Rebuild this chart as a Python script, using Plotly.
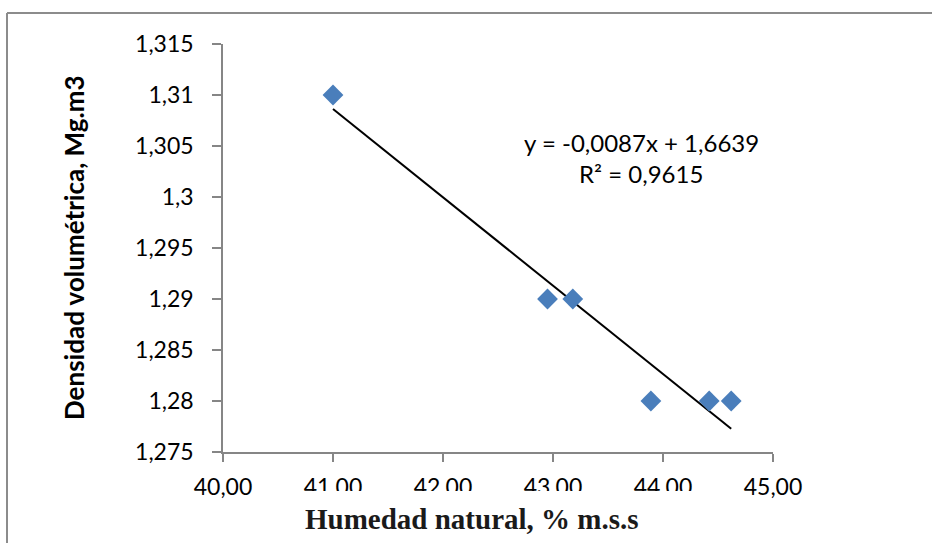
import numpy as np
import plotly.graph_objects as go

# ---- data ----
humedad = [41.00, 42.95, 43.18, 43.89, 44.42, 44.62]
densidad = [1.310, 1.290, 1.290, 1.280, 1.280, 1.280]

x_tickvals = [40, 41, 42, 43, 44, 45]
x_ticktext = ["40,00", "41,00", "42,00", "43,00", "44,00", "45,00"]
y_tickvals = [1.275, 1.28, 1.285, 1.29, 1.295, 1.30, 1.305, 1.31, 1.315]
y_ticktext = ["1,275", "1,28", "1,285", "1,29", "1,295", "1,3", "1,305", "1,31", "1,315"]

eq_text = "y = -0,0087x + 1,6639"
r2_text = "R² = 0,9615"
x_title = "Humedad natural, % m.s.s"
y_title = "Densidad volumétrica, Mg.m3"

# linear trendline fitted to the data, spanning the data range
slope, intercept = np.polyfit(humedad, densidad, 1)
tx = [min(humedad), max(humedad)]
ty = [slope * v + intercept for v in tx]

W, H = 932, 543
L, R, T, B = 223, 159, 44, 91
PW, PH = W - L - R, H - T - B

def px(x):
    return (x - L) / PW

def py(y):
    return (H - B - y) / PH

fig = go.Figure()
fig.add_trace(go.Scatter(x=tx, y=ty, mode="lines",
                         line=dict(color="black", width=2), hoverinfo="skip"))
fig.add_trace(go.Scatter(x=humedad, y=densidad, mode="markers",
                         marker=dict(symbol="diamond", size=16, color="#4A7EBB",
                                     line=dict(width=0))))

axis_col = "#868686"
tick_font = dict(family="Lato", size=23, color="black")

fig.update_xaxes(range=[40, 45], tickvals=x_tickvals, ticktext=x_ticktext,
                 showgrid=False, zeroline=False, showline=True, linecolor=axis_col,
                 linewidth=1.5, ticks="outside", ticklen=8, tickcolor=axis_col,
                 tickwidth=1.5, tickfont=tick_font, ticklabelstandoff=6)
fig.update_yaxes(range=[1.275, 1.315], tickvals=y_tickvals, ticktext=y_ticktext,
                 showgrid=False, zeroline=False, showline=True, linecolor=axis_col,
                 linewidth=1.5, ticks="outside", ticklen=9, tickcolor=axis_col,
                 tickwidth=1.5, tickfont=tick_font, ticklabelstandoff=14)

shapes = [
    # outer frame (top and left edges)
    dict(type="line", xref="paper", yref="paper", x0=px(7), x1=px(W + 5),
         y0=py(13), y1=py(13), line=dict(color="#8c8c8c", width=2), layer="above"),
    dict(type="line", xref="paper", yref="paper", x0=px(7), x1=px(7),
         y0=py(13), y1=py(H + 5), line=dict(color="#8c8c8c", width=2), layer="above"),
    # white backing of the pasted x-axis title
    dict(type="rect", xref="paper", yref="paper", x0=px(292), x1=px(720),
         y0=py(491), y1=py(H + 5), fillcolor="white", line=dict(width=0), layer="above"),
]

annotations = [
    dict(text="<b>" + x_title + "</b>", xref="paper", yref="paper", x=px(472), y=py(519),
         showarrow=False, xanchor="center", yanchor="middle",
         font=dict(family="Liberation Serif", size=29, color="#1a1a1a")),
    dict(text="<b>" + y_title + "</b>", xref="paper", yref="paper", x=px(74), y=py(248),
         showarrow=False, textangle=-90, xanchor="center", yanchor="middle",
         font=dict(family="Lato", size=26, color="black")),
    dict(text=eq_text, xref="paper", yref="paper", x=px(641), y=py(142),
         showarrow=False, xanchor="center", yanchor="middle",
         font=dict(family="Lato", size=24, color="black")),
    dict(text=r2_text, xref="paper", yref="paper", x=px(641), y=py(173),
         showarrow=False, xanchor="center", yanchor="middle",
         font=dict(family="Lato", size=24, color="black")),
]

fig.update_layout(width=W, height=H, margin=dict(l=L, r=R, t=T, b=B),
                  paper_bgcolor="white", plot_bgcolor="white", showlegend=False,
                  shapes=shapes, annotations=annotations)

fig.write_html("out.html")
